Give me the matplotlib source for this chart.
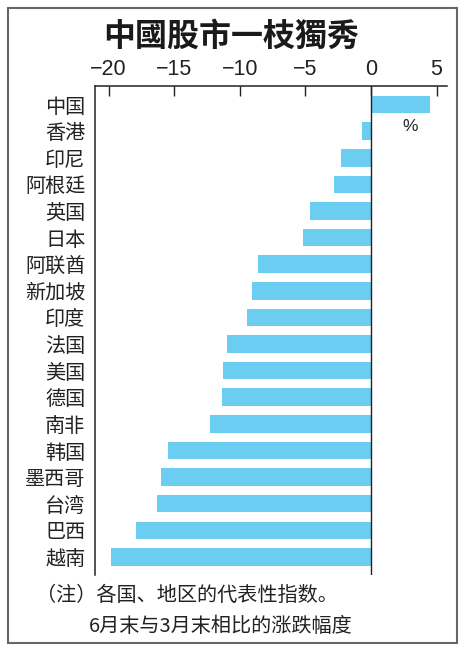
import matplotlib
matplotlib.use('Agg')
import matplotlib.pyplot as plt
from matplotlib.patches import Rectangle

plt.rcParams['font.family'] = ['Noto Sans CJK SC', 'DejaVu Sans']

# data (% change, end of June vs end of March)
markets = ['中国', '香港', '印尼', '阿根廷', '英国', '日本', '阿联酋', '新加坡', '印度',
           '法国', '美国', '德国', '南非', '韩国', '墨西哥', '台湾', '巴西', '越南']
changes = [4.5, -0.65, -2.3, -2.8, -4.65, -5.2, -8.6, -9.05, -9.45,
           -11.0, -11.25, -11.35, -12.25, -15.45, -16.0, -16.3, -17.9, -19.8]
ticks = [-20, -15, -10, -5, 0, 5]

fig = plt.figure(figsize=(4.63, 6.57), dpi=100)
ax = fig.add_axes([95/463, 1-575/657, (447-95)/463, (575-86)/657])

pos = list(range(len(markets)))
ax.barh(pos, changes, height=0.66, color='#6ccdf3', zorder=2)
ax.set_ylim(len(markets) - 1 + 0.68, -0.7)
ax.set_xlim(-21.04, 5.8)
ax.axvline(0, color='#222222', lw=1.0, zorder=3)

ax.set_yticks(pos)
ax.set_yticklabels(markets, fontsize=14.5, color='#222222')
ax.tick_params(axis='y', length=0, pad=7)

ax.xaxis.tick_top()
ax.set_xticks(ticks)
ax.set_xticklabels([str(t).replace('-', '\u2212') for t in ticks],
                   fontsize=15.5, family=['Liberation Sans', 'DejaVu Sans'], color='#222222')
ax.tick_params(axis='x', direction='in', length=7, width=1, pad=4, color='#222222')

for s in ['right', 'bottom']:
    ax.spines[s].set_visible(False)
for s in ['left', 'top']:
    ax.spines[s].set_linewidth(1.1)
    ax.spines[s].set_color('#222222')

ax.text(0.895, 0.918, '%', transform=ax.transAxes, fontsize=12.5, ha='center', va='center',
        family=['Liberation Sans', 'DejaVu Sans'], color='#222222')

fig.text(231/463, 1-37/657, '中國股市一枝獨秀', fontsize=23, fontweight='bold',
         ha='center', va='center', color='#1a1a1a')
fig.text(36/463, 1-595/657, '（注）各国、地区的代表性指数。', fontsize=14.5,
         ha='left', va='center', color='#222222')
fig.text(89/463, 1-627/657, '6月末与3月末相比的涨跌幅度', fontsize=14.5,
         ha='left', va='center', color='#222222')

fig.patches.append(Rectangle((8/463, 1-643/657), (457-8)/463, (643-8)/657,
                             transform=fig.transFigure, fill=False,
                             edgecolor='#666666', lw=1.5))

fig.savefig('out.png', dpi=100)
